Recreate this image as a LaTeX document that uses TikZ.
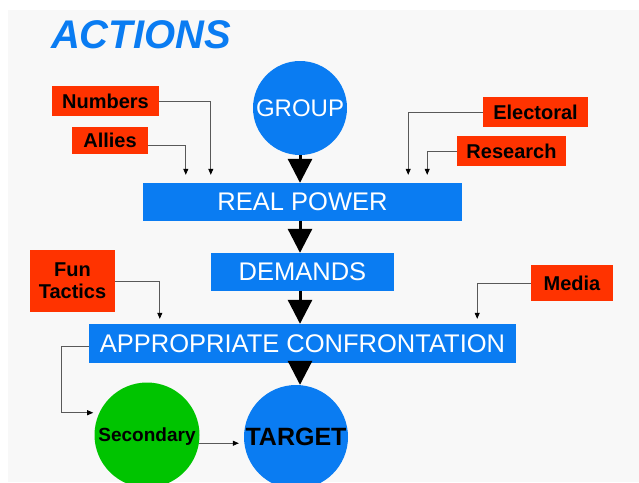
\documentclass[tikz,border=0pt]{standalone}
\usepackage{fontspec}
\setmainfont{Liberation Sans}
\usetikzlibrary{positioning,arrows.meta}
\definecolor{actBlue}{HTML}{0A7CF2}
\definecolor{actRed}{HTML}{FF3300}
\definecolor{actGreen}{HTML}{00C400}
\definecolor{paper}{HTML}{F8F8F8}
\tikzset{
  bar/.style={rectangle, fill=actBlue, text=white, inner sep=0pt, minimum height=38pt, font=\fontsize{25.5}{28}\selectfont},
  ball/.style={circle, fill=actBlue, inner sep=0pt},
  tag/.style={rectangle, fill=actRed, inner sep=0pt, font=\bfseries\fontsize{20}{22}\selectfont},
%  tagShadow/.style={rectangle, fill=gray!30},
  push/.style={-{Triangle[width=24pt,length=24pt]}, line width=3pt},
  feed/.style={-{Triangle[width=5pt,length=6pt,black]}, draw=black!65, line width=0.8pt}
}

\begin{document}
\begin{tikzpicture}[x=1pt, y=-1pt]
  \useasboundingbox (0,0) rectangle (639,482);
  \fill[white] (0,0) rectangle (639,482);
  \fill[paper] (8,10) rectangle (639,482);
  \node [anchor=base, text=actBlue, font={\bfseries\itshape\fontsize{40}{42}\selectfont}] (title) at (141,48) {ACTIONS};
  % main chain
  \node [ball, minimum size=94pt, text=white, font=\fontsize{24}{28}\selectfont] (group) at (300,108) {GROUP};
  \node [bar, minimum width=319pt] (power) at (302.5,202) {REAL POWER};
  \node [bar, minimum width=183pt] (demands) at (302.5,272) {DEMANDS};
  \node [bar, minimum width=427pt, minimum height=39pt] (approp) at (302.5,343.5) {APPROPRIATE CONFRONTATION};
  \node [ball, minimum size=104pt, text=black, font=\bfseries\fontsize{25}{28}\selectfont] (target) at (296,437) {TARGET};
  \node [ball, fill=actGreen, minimum size=105pt, text=black, text depth=0pt, font=\bfseries\fontsize{19}{22}\selectfont] (second) at (147,435) {Secondary};
  % side inputs
  \node [tag, minimum width=107pt, minimum height=30pt] (numbers) at (105.5,101) {Numbers};
  \node [tag, minimum width=76pt, minimum height=27pt] (allies) at (110,140.5) {Allies};
  \node [tag, minimum width=105pt, minimum height=30pt] (electoral) at (535.5,112) {Electoral};
  \node [tag, minimum width=109pt, minimum height=30pt] (research) at (511.5,151) {Research};
  \node [tag, minimum width=85pt, minimum height=62pt, align=center] (funtac) at (72.5,281) {Fun\\Tactics};
  \node [tag, minimum width=82pt, minimum height=36pt] (media) at (572,283) {Media};

  \draw [push] (group.south) -- (group.south |- power.north);
  \draw [push] (power.south -| group) -- (demands.north -| group);
  \draw [push] (demands.south -| group) -- (approp.north -| group);
  \draw [push] (approp.south -| group) -- (target.north -| group);

  \draw [feed, shorten >=8pt] (numbers.east) -| ([xshift=68pt]power.north west);
  \draw [feed, shorten >=8pt] ([yshift=-5pt]allies.east) -| ([xshift=43pt]power.north west);
  \draw [feed, shorten >=8pt] (electoral.west) -| ([xshift=-54pt]power.north east);
  \draw [feed, shorten >=8pt] (research.west) -| ([xshift=-35pt]power.north east);
  \draw [feed, shorten >=5pt] (funtac.east) -| ([xshift=71pt]approp.north west);
  \draw [feed, shorten >=5pt] (media.west) -| ([xshift=-39pt]approp.north east);
  \draw [feed, shorten >=6pt] ([yshift=-3pt]approp.west) -- ++(-27,0) |- (second.155);
  \draw [feed, shorten >=5pt] (second.-9) -- (second.-9 -| target.west);
\end{tikzpicture}
\end{document}
